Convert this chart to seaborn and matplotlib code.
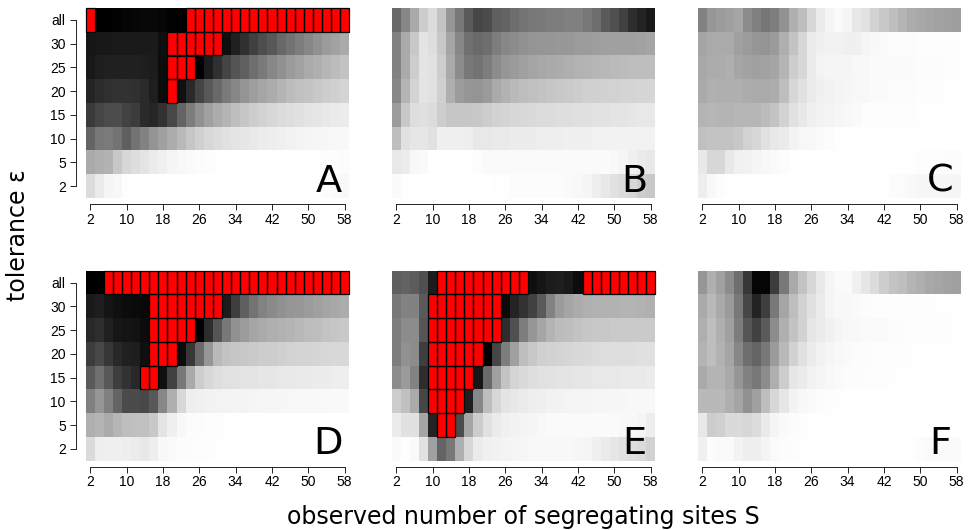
import matplotlib
matplotlib.use("Agg")
import matplotlib.pyplot as plt
import numpy as np
import seaborn as sns
from matplotlib.colors import ListedColormap
from matplotlib.patches import Rectangle

R = None  # red cell

sites = list(range(2, 60, 2))
tolerance = ["all", "30", "25", "20", "15", "10", "5", "2"]
s_labels = [2, 10, 18, 26, 34, 42, 50, 58]

# grey level of each cell, 0 black to 255 white, rows run top to bottom
panel_a = [
    [R, 0, 0, 2, 4, 6, 8, 8, 6, 2, 0, R, R, R, R, R, R, R, R, R, R, R, R, R, R, R, R, R, R],
    [22, 24, 24, 26, 26, 26, 26, 26, 14, R, R, R, R, R, R, 15, 32, 48, 64, 78, 88, 104, 115, 125, 135, 145, 155, 162, 170],
    [24, 30, 32, 32, 32, 32, 30, 28, 12, R, R, R, 0, 28, 48, 68, 84, 96, 110, 122, 135, 145, 155, 162, 170, 175, 182, 188, 195],
    [36, 44, 48, 50, 50, 48, 42, 30, 12, R, 16, 42, 68, 88, 105, 122, 135, 148, 158, 165, 172, 180, 188, 192, 196, 200, 205, 208, 212],
    [58, 70, 76, 76, 66, 60, 42, 38, 50, 72, 100, 125, 145, 160, 172, 180, 190, 198, 205, 210, 215, 220, 222, 225, 228, 230, 232, 235, 236],
    [100, 120, 122, 115, 95, 115, 130, 148, 160, 172, 185, 198, 208, 215, 220, 225, 228, 230, 233, 236, 238, 240, 242, 244, 245, 246, 247, 248, 248],
    [170, 175, 178, 200, 215, 222, 228, 235, 240, 245, 248, 250, 252, 253, 254, 255, 255, 255, 255, 255, 255, 255, 255, 254, 254, 254, 253, 253, 252],
    [220, 235, 245, 248, 254, 255, 255, 255, 255, 255, 255, 255, 255, 255, 255, 255, 255, 255, 255, 255, 255, 255, 255, 255, 255, 254, 252, 250, 248],
]
panel_b = [
    [105, 135, 170, 205, 220, 195, 150, 120, 90, 70, 75, 95, 100, 110, 115, 120, 122, 125, 125, 128, 128, 120, 110, 90, 80, 65, 45, 35, 25],
    [130, 170, 200, 228, 222, 200, 165, 135, 112, 105, 110, 125, 135, 140, 145, 148, 150, 150, 152, 152, 155, 155, 158, 160, 160, 160, 160, 162, 165],
    [130, 170, 205, 228, 225, 205, 170, 140, 120, 115, 125, 140, 150, 155, 160, 165, 168, 170, 172, 175, 178, 180, 182, 184, 186, 188, 190, 190, 190],
    [135, 180, 212, 228, 225, 208, 175, 155, 150, 148, 155, 170, 178, 185, 190, 192, 195, 198, 200, 202, 205, 208, 208, 210, 210, 212, 212, 214, 214],
    [155, 200, 222, 224, 220, 205, 198, 198, 198, 200, 205, 210, 212, 215, 216, 218, 220, 220, 222, 222, 224, 224, 226, 226, 228, 228, 230, 232, 232],
    [190, 225, 230, 230, 225, 240, 240, 240, 238, 232, 232, 234, 234, 236, 236, 236, 238, 238, 238, 240, 240, 240, 242, 242, 242, 242, 242, 242, 242],
    [232, 236, 248, 250, 255, 255, 255, 255, 255, 253, 250, 250, 250, 250, 250, 250, 250, 250, 250, 250, 250, 250, 250, 250, 248, 245, 240, 235, 232],
    [250, 254, 255, 255, 255, 255, 255, 255, 255, 255, 255, 254, 254, 252, 252, 252, 252, 252, 252, 250, 248, 245, 238, 232, 225, 220, 215, 205, 200],
]
panel_c = [
    [130, 150, 155, 160, 165, 140, 128, 118, 125, 145, 175, 190, 215, 235, 245, 250, 245, 232, 225, 210, 200, 190, 180, 172, 168, 165, 162, 160, 158],
    [165, 170, 170, 170, 160, 155, 150, 148, 155, 175, 195, 215, 235, 240, 242, 242, 240, 240, 245, 248, 250, 252, 252, 252, 253, 253, 253, 253, 253],
    [168, 172, 172, 175, 165, 162, 160, 162, 165, 180, 205, 215, 235, 243, 245, 245, 245, 248, 248, 250, 250, 250, 250, 251, 252, 252, 252, 253, 253],
    [170, 176, 175, 175, 175, 172, 170, 170, 172, 190, 215, 225, 235, 240, 242, 244, 246, 248, 248, 250, 250, 252, 252, 252, 253, 253, 253, 254, 254],
    [180, 182, 180, 180, 182, 182, 182, 188, 195, 210, 225, 232, 240, 242, 244, 246, 248, 250, 253, 253, 253, 253, 253, 253, 254, 254, 254, 254, 254],
    [192, 195, 195, 195, 200, 210, 215, 225, 232, 235, 243, 247, 248, 250, 252, 254, 254, 254, 255, 255, 255, 255, 255, 255, 255, 255, 255, 255, 255],
    [232, 215, 215, 232, 240, 242, 245, 248, 250, 252, 255, 255, 255, 255, 255, 255, 255, 255, 255, 255, 255, 255, 254, 254, 253, 253, 253, 252, 252],
    [238, 248, 252, 254, 254, 255, 255, 255, 255, 255, 255, 255, 255, 255, 255, 255, 255, 255, 255, 255, 255, 252, 251, 249, 247, 247, 247, 246, 245],
]
panel_d = [
    [0, 0, R, R, R, R, R, R, R, R, R, R, R, R, R, R, R, R, R, R, R, R, R, R, R, R, R, R, R],
    [26, 30, 20, 16, 12, 10, 8, R, R, R, R, R, R, R, R, 28, 62, 95, 115, 130, 138, 145, 150, 152, 155, 160, 165, 168, 172],
    [40, 46, 32, 22, 20, 18, 12, R, R, R, R, R, 0, 45, 85, 120, 145, 155, 165, 170, 175, 178, 180, 185, 188, 190, 195, 198, 200],
    [60, 72, 55, 40, 32, 30, 15, R, R, R, 12, 55, 105, 150, 185, 195, 198, 200, 202, 205, 205, 208, 210, 212, 212, 214, 215, 216, 216],
    [90, 112, 88, 62, 50, 40, R, R, 16, 65, 120, 170, 205, 215, 222, 225, 226, 228, 228, 230, 230, 232, 232, 234, 234, 236, 236, 238, 238],
    [128, 150, 128, 100, 75, 75, 72, 88, 135, 175, 215, 238, 240, 242, 243, 243, 244, 244, 245, 246, 246, 247, 247, 248, 248, 248, 249, 249, 249],
    [175, 180, 170, 182, 190, 192, 192, 200, 228, 240, 248, 252, 252, 253, 253, 254, 254, 255, 255, 255, 255, 255, 255, 255, 255, 255, 255, 255, 255],
    [218, 238, 240, 240, 238, 235, 232, 238, 248, 250, 252, 252, 253, 253, 254, 254, 254, 255, 255, 255, 255, 255, 255, 255, 255, 254, 254, 254, 254],
]
panel_e = [
    [95, 98, 92, 80, 28, R, R, R, R, R, R, R, R, R, R, 15, 22, 28, 30, 25, 12, R, R, R, R, R, R, R, R],
    [120, 130, 130, 90, R, R, R, R, R, R, R, R, 10, 35, 50, 65, 90, 130, 155, 165, 172, 176, 178, 178, 178, 180, 180, 178, 176],
    [125, 140, 140, 85, R, R, R, R, R, R, R, R, 45, 80, 125, 150, 165, 180, 188, 190, 195, 198, 200, 200, 202, 202, 202, 202, 202],
    [125, 145, 140, 62, R, R, R, R, R, R, 0, 70, 125, 160, 190, 200, 208, 210, 212, 214, 216, 218, 220, 222, 222, 222, 222, 224, 224],
    [140, 155, 130, 45, R, R, R, R, R, 22, 105, 160, 195, 212, 218, 222, 225, 226, 228, 228, 230, 230, 232, 232, 232, 234, 234, 234, 236],
    [205, 192, 170, 70, R, R, R, R, 30, 135, 190, 215, 228, 232, 235, 238, 240, 242, 243, 244, 245, 245, 246, 246, 247, 247, 248, 248, 248],
    [235, 225, 225, 165, 35, R, R, 75, 165, 205, 225, 235, 240, 242, 244, 245, 248, 250, 250, 250, 250, 250, 250, 250, 250, 248, 248, 245, 238],
    [250, 254, 250, 225, 160, 100, 120, 175, 215, 235, 240, 242, 244, 245, 246, 248, 248, 248, 248, 248, 246, 245, 240, 235, 230, 225, 222, 218, 210],
]
panel_f = [
    [150, 175, 160, 140, 110, 55, 5, 5, 60, 120, 170, 195, 215, 232, 245, 250, 250, 240, 230, 220, 205, 195, 190, 180, 175, 168, 165, 162, 160],
    [170, 185, 170, 155, 120, 70, 35, 62, 120, 165, 190, 210, 225, 235, 245, 248, 248, 250, 252, 253, 253, 253, 253, 253, 253, 253, 254, 254, 254],
    [175, 190, 175, 160, 125, 85, 65, 90, 140, 175, 195, 210, 230, 235, 240, 245, 248, 248, 250, 250, 250, 252, 252, 253, 253, 253, 253, 253, 254],
    [180, 190, 178, 165, 135, 110, 100, 120, 155, 185, 210, 225, 235, 242, 246, 248, 250, 252, 252, 253, 253, 253, 253, 254, 254, 254, 254, 254, 254],
    [170, 180, 180, 170, 150, 130, 120, 140, 175, 205, 230, 235, 242, 245, 248, 250, 252, 252, 253, 253, 253, 254, 254, 254, 254, 254, 254, 254, 254],
    [185, 185, 185, 175, 165, 145, 160, 190, 215, 230, 243, 248, 250, 252, 253, 254, 254, 254, 255, 255, 255, 255, 255, 255, 255, 255, 255, 255, 255],
    [232, 205, 208, 218, 218, 215, 220, 235, 245, 250, 252, 253, 254, 254, 254, 255, 255, 255, 255, 255, 255, 255, 255, 255, 255, 255, 255, 255, 255],
    [240, 252, 250, 250, 243, 238, 238, 245, 250, 252, 253, 254, 254, 255, 255, 255, 255, 255, 255, 255, 255, 255, 255, 254, 252, 250, 250, 250, 250],
]

panels = [("A", panel_a), ("B", panel_b), ("C", panel_c), ("D", panel_d), ("E", panel_e), ("F", panel_f)]

W, H = 968, 530
lefts = [85.7, 391.7, 697.7]
tops = [8, 270.7]
pw, ph = 263.5, 190

sns.set_style("white")
plt.rcParams["font.family"] = ["Liberation Sans", "DejaVu Sans"]
plt.rcParams["text.color"] = "black"
plt.rcParams["xtick.labelcolor"] = "black"
plt.rcParams["ytick.labelcolor"] = "black"

fig = plt.figure(figsize=(W / 100, H / 100), dpi=100)

for i, (letter, rows) in enumerate(panels):
    col, row = i % 3, i // 3
    ax = fig.add_axes([lefts[col] / W, 1 - (tops[row] + ph) / H, pw / W, ph / H])
    grid = np.array(rows, dtype=float)
    red = np.isnan(grid)

    sns.heatmap(grid, mask=red, cmap="gray", vmin=0, vmax=255, cbar=False, ax=ax, linewidths=0)
    if red.any():
        sns.heatmap(np.where(red, 1.0, np.nan), cmap=ListedColormap(["#ff0000"]), cbar=False, ax=ax, linewidths=0)
        # cell outlines only on the red cells, heatmap linewidths would outline all of them
        for r, c in zip(*np.nonzero(red)):
            ax.add_patch(Rectangle((c, r), 1, 1, fill=False, edgecolor="black", linewidth=0.9, clip_on=False))

    xt = [sites.index(s) + 0.5 for s in s_labels]
    ax.set_xticks(xt)
    ax.set_xticklabels(s_labels, rotation=0, fontsize=10.6)
    ax.spines["bottom"].set_visible(True)
    ax.spines["bottom"].set_position(("outward", 4.5))
    ax.spines["bottom"].set_bounds(xt[0], xt[-1])
    ax.spines["bottom"].set_linewidth(0.7)
    ax.spines["bottom"].set_color("#222222")
    ax.tick_params(axis="x", bottom=True, length=4.3, width=0.7, pad=1.8, color="#222222")

    if col == 0:
        yt = np.arange(len(tolerance)) + 0.5
        ax.set_yticks(yt)
        ax.set_yticklabels(tolerance, rotation=0, fontsize=10.6)
        ax.spines["left"].set_visible(True)
        ax.spines["left"].set_position(("outward", 7.2))
        ax.spines["left"].set_bounds(yt[-1], yt[0])
        ax.spines["left"].set_linewidth(0.7)
        ax.spines["left"].set_color("#222222")
        ax.tick_params(axis="y", left=True, length=4.3, width=0.7, pad=2.8, color="#222222")
    else:
        ax.set_yticks([])

    ax.text(26.7, 7.73, letter, fontsize=27.5, family="DejaVu Sans", ha="center", va="baseline")

fig.text(523 / W, 1 - 517 / H, "observed number of segregating sites S", fontsize=17, family="DejaVu Sans",
         ha="center", va="center")
fig.text(18.5 / W, 1 - 235 / H, "tolerance ε", fontsize=17, family="DejaVu Sans",
         rotation=90, ha="center", va="center")

fig.savefig("out.png", dpi=100)
